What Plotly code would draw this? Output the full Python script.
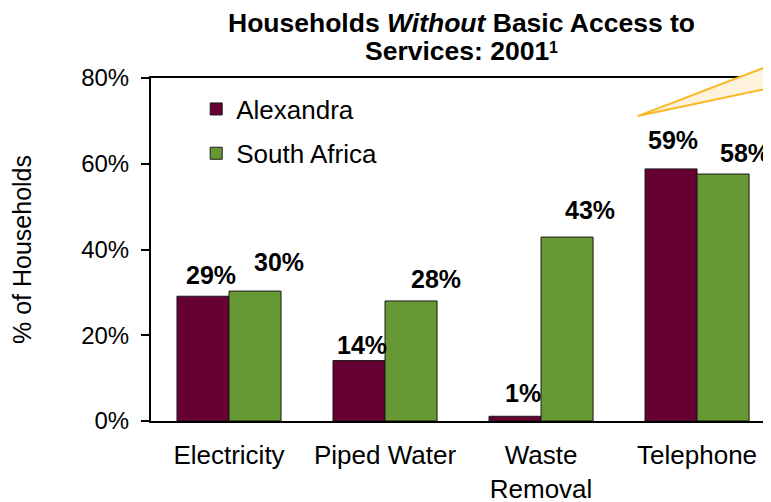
import plotly.graph_objects as go

categories = ["Electricity", "Piped Water", "Waste<br>Removal", "Telephone"]
alexandra = [29.1, 14.1, 1.1, 58.8]
south_africa = [30.3, 28.0, 42.9, 57.6]
alex_labels = ["29%", "14%", "1%", "59%"]
sa_labels = ["30%", "28%", "43%", "58%"]
y_ticks = [0, 20, 40, 60, 80]
y_tick_text = ["0%", "20%", "40%", "60%", "80%"]
title_line1 = "<b>Households <i>Without</i> Basic Access to</b>"
title_line2 = "<b>Services: 2001</b>"
title_note = "<b>1</b>"

# label offsets (style only): x shift and y gap in px
alex_dx = [8, 3, 8, 2]
alex_dy = [5, 0, 7, 13]
sa_dx = [24, 25, 23, 22]
sa_dy = [13, 6, 11, 5]

FONT = "Liberation Sans, Arial, sans-serif"
ALEX_C = "#660033"
SA_C = "#669933"

fig = go.Figure()
fig.add_trace(go.Bar(x=categories, y=alexandra, name="Alexandra",
                     marker=dict(color=ALEX_C, line=dict(color="#1a1a1a", width=1)),
                     legendgroup="a"))
fig.add_trace(go.Bar(x=categories, y=south_africa, name="South Africa",
                     marker=dict(color=SA_C, line=dict(color="#1a1a1a", width=1)),
                     legendgroup="b"))

for i, c in enumerate(categories):
    fig.add_annotation(x=c, y=alexandra[i], xref="x", yref="y", text="<b>%s</b>" % alex_labels[i],
                       showarrow=False, yanchor="bottom", xanchor="center",
                       xshift=-26 + alex_dx[i], yshift=alex_dy[i],
                       font=dict(family=FONT, size=25, color="black"))
    fig.add_annotation(x=c, y=south_africa[i], xref="x", yref="y", text="<b>%s</b>" % sa_labels[i],
                       showarrow=False, yanchor="bottom", xanchor="center",
                       xshift=26 + sa_dx[i], yshift=sa_dy[i],
                       font=dict(family=FONT, size=25, color="black"))

# title as two centred lines plus a small footnote marker
fig.add_annotation(x=0.5016, y=1.160, xref="paper", yref="paper", text=title_line1,
                   showarrow=False, xanchor="center", yanchor="middle",
                   font=dict(family=FONT, size=26.5, color="black"))
fig.add_annotation(x=0.4935, y=1.080, xref="paper", yref="paper", text=title_line2,
                   showarrow=False, xanchor="center", yanchor="middle",
                   font=dict(family=FONT, size=26.5, color="black"))
fig.add_annotation(x=0.6395, y=1.0875, xref="paper", yref="paper", text=title_note,
                   showarrow=False, xanchor="left", yanchor="middle",
                   font=dict(family=FONT, size=16, color="black"))

# decorative callout wedge at top right
fig.add_shape(type="path", xref="paper", yref="paper",
              path="M 0.785 0.889 L 1.031 1.059 L 1.031 0.983 Z",
              line=dict(color="#F9B924", width=2), fillcolor="#FDF3DC", layer="above")

# the page body adds an 8px margin, so the figure is sized to fill the rest
fig.update_layout(
    width=763, height=494,
    margin=dict(l=143, r=0, t=70, b=81),
    paper_bgcolor="white", plot_bgcolor="white",
    barmode="group", bargap=0.333, bargroupgap=0,
    font=dict(family=FONT, size=24, color="black"),
    showlegend=True,
    legend=dict(x=0.0729, y=0.978, xanchor="left", yanchor="top",
                font=dict(family=FONT, size=26), tracegroupgap=7.5,
                bgcolor="rgba(0,0,0,0)"),
    xaxis=dict(range=[-0.5, 3.474], showline=True, linecolor="black", linewidth=2,
               mirror=True, ticks="", showgrid=False, tickfont=dict(size=26),
               ticklabelstandoff=10, automargin=False, fixedrange=True),
    yaxis=dict(range=[0, 80], tickvals=y_ticks, ticktext=y_tick_text,
               showline=True, linecolor="black", linewidth=2, ticks="outside",
               ticklen=8, tickwidth=2, tickcolor="black", showgrid=False,
               ticklabelstandoff=7,
               title=dict(text="% of Households", font=dict(size=25), standoff=48),
               tickfont=dict(size=24), zeroline=False, automargin=False),
)

fig.write_html("out.html")
